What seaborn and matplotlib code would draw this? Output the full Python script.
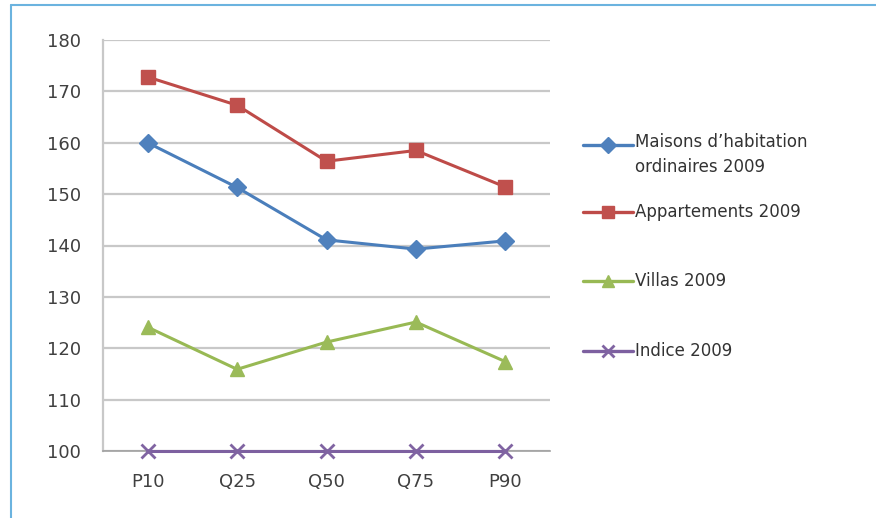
import pandas as pd
import seaborn as sns
import matplotlib.pyplot as plt
from matplotlib.lines import Line2D

# Values
categories = ['P10', 'Q25', 'Q50', 'Q75', 'P90']
maisons = [160.0, 151.3, 141.1, 139.3, 140.9]
appartements = [172.8, 167.3, 156.4, 158.5, 151.4]
villas = [124.1, 115.9, 121.2, 125.1, 117.4]
indice = [100, 100, 100, 100, 100]

series_names = ['Maisons d\u2019habitation\nordinaires 2009', 'Appartements 2009',
                'Villas 2009', 'Indice 2009']
y_ticks = [100, 110, 120, 130, 140, 150, 160, 170, 180]

sns.set_style('white')
plt.rcParams['font.family'] = ['DejaVu Sans']

line_colors = ['#4A7EBB', '#BE4B48', '#98B954', '#7D60A0']
marker_colors = ['#4F81BD', '#C0504D', '#9BBB59', '#8064A2']
markers = ['D', 's', '^', 'x']
msizes = [9, 10.5, 10.5, 10]

fig = plt.figure(figsize=(8.76, 5.18), dpi=100)
ax = fig.add_axes([103 / 876, 1 - 451 / 518, 447 / 876, 411 / 518])

all_values = [maisons, appartements, villas, indice]
for vals, lc, mc, mk, ms in zip(all_values, line_colors, marker_colors, markers, msizes):
    df = pd.DataFrame({'cat': categories, 'val': vals})
    sns.lineplot(data=df, x='cat', y='val', ax=ax, color=lc, linewidth=2.2,
                 marker=mk, markersize=ms, markerfacecolor=mc,
                 markeredgecolor=mc, markeredgewidth=2 if mk == 'x' else 1,
                 clip_on=False, zorder=5)

ax.set_xlim(-0.5, len(categories) - 0.5)
ax.set_ylim(100, 180)
ax.set_yticks(y_ticks)
ax.set_xlabel('')
ax.set_ylabel('')
ax.grid(axis='y', color='#C8C8C8', linewidth=1.6)
ax.grid(axis='x', visible=False)
for side in ['top', 'right']:
    ax.spines[side].set_visible(False)
ax.spines['left'].set_color('#C8C8C8')
ax.spines['left'].set_linewidth(1.6)
ax.spines['bottom'].set_color('#A0A0A0')
ax.spines['bottom'].set_linewidth(1.2)
ax.tick_params(axis='y', length=6, color='#BDBDBD', width=1.6, labelsize=13,
               labelcolor='#404040', pad=10)
ax.tick_params(axis='x', length=0, labelsize=13, labelcolor='#404040', pad=16)
ax.set_xticks(range(len(categories)))
ax.set_xticklabels(categories)
ax.set_xticks([i + 0.5 for i in range(-1, len(categories))], minor=True)
ax.tick_params(axis='x', which='minor', length=5, color='#A0A0A0', width=1)

# legend drawn by hand so the marker sits on the first text line
leg_y = [145, 212, 281, 351]
for name, lc, mc, mk, ly in zip(series_names, line_colors, marker_colors, markers, leg_y):
    yf = 1 - ly / 518
    fig.add_artist(Line2D([583 / 876, 633 / 876], [yf, yf], color=lc, linewidth=2.4,
                          transform=fig.transFigure))
    fig.add_artist(Line2D([608 / 876], [yf], marker=mk, markersize=8,
                          markerfacecolor=mc, markeredgecolor=mc,
                          markeredgewidth=2 if mk == 'x' else 1,
                          transform=fig.transFigure))
    fig.text(635 / 876, yf, name, ha='left', va='top' if '\n' in name else 'center',
             fontsize=12, color='#333333', linespacing=1.5,
             transform=fig.transFigure)
fig.texts[0].set_position((635 / 876, 1 - 133 / 518))

# thin blue frame at top and left
frame = '#6BB3DF'
fig.add_artist(Line2D([11 / 876, 1], [1 - 5 / 518, 1 - 5 / 518], color=frame, linewidth=1.5,
                      transform=fig.transFigure))
fig.add_artist(Line2D([11 / 876, 11 / 876], [0, 1 - 5 / 518], color=frame, linewidth=1.5,
                      transform=fig.transFigure))

fig.savefig('out.png', dpi=100, facecolor='white')
